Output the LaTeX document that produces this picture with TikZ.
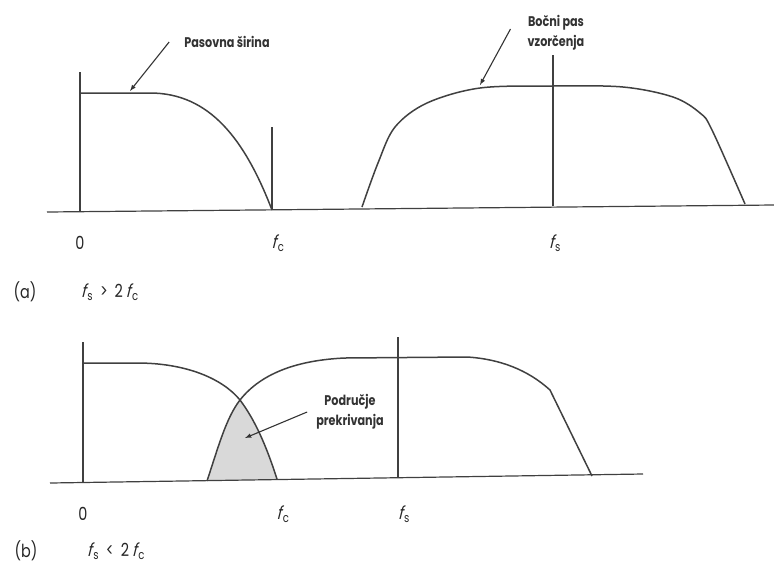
\documentclass[tikz,border=0pt]{standalone}
\usepackage{fontspec}
\setmainfont[FakeStretch=0.8]{Poppins}
\newfontfamily\slantfont[FakeSlant=0.25,FakeStretch=0.8]{Poppins}
\usetikzlibrary{positioning}
\newcommand{\fq}[1]{{\slantfont f}\kern1.5pt\textsubscript{#1}}

\begin{document}
\begin{tikzpicture}[x=1pt, y=-1pt,
  curve/.style={line width=1.5pt, black!75, line join=round},
  tick/.style={line width=1.2pt, black!75},
  note/.style={font=\fontsize{14}{20}\selectfont\bfseries, text=black!80, align=center, inner sep=1pt},
  axlabel/.style={font=\fontsize{18}{20}\selectfont, text=black!85, inner sep=0pt},
  pointer/.style={-latex, line width=1.1pt, black!80}]
\useasboundingbox (0,0) rectangle (774,566);
\draw[tick] (47,212) -- (774,205);
\draw[tick] (80,72) -- (80,212);
\draw[tick] (272,127) -- (272,210);
\draw[tick] (553,55) -- (553,206);
\draw[curve] (80,93) -- (150,93) .. controls (210,93) and (245,140) .. (272,210);
\draw[curve] plot[smooth, tension=0.55] coordinates {(362,207) (378,163) (395,127) (427,103) (480,88) (553,86) (623,87) (673,97) (700,113) (712,130) (745,204)};
\coordinate (bwtip) at (130,91);
\coordinate (sbtip) at (480,85);
\node[note] (bw) at (227,42) {Pasovna širina};
\node[note] (sb) at (556,33) {Bočni pas\\vzorčenja};
\draw[pointer] ([xshift=-14]bw.west) -- (bwtip);
\draw[pointer] ([xshift=-16, yshift=4]sb.west) -- (sbtip);
\node[axlabel] (za) at (80,243) {0};
\node[axlabel] (fca) at (278,243) {\fq{c}};
\node[axlabel] (fsa) at (555,243) {\fq{s}};
\node[axlabel] (la) at (25,292) {(a)};
\node[axlabel] (ca) at (110,292) {\fq{s} \,>\, 2\,\fq{c}};
\fill[gray!30] (207,481) .. controls (218,448) and (226,418) .. (240,400) .. controls (255,420) and (266,445) .. (277,479) -- cycle;
\draw[tick] (50,483) -- (643,474);
\draw[tick] (83,342) -- (83,483);
\draw[tick] (398,337) -- (398,477);
\draw[curve] (83,363) -- (137,363) .. controls (185,363) and (222,378) .. (240,400) .. controls (255,420) and (266,445) .. (277,479);
\draw[curve] (207,481) .. controls (218,448) and (226,418) .. (240,400) .. controls (262,372) and (300,360) .. (345,358) -- (467,357) .. controls (500,359) and (528,370) .. (550,390) -- (592,476);
\coordinate (pktip) at (245,438);
\node[note] (pk) at (350,412) {Područje\\prekrivanja};
\draw[pointer] ([xshift=-8]pk.west) -- (pktip);
\node[axlabel] (zb) at (83,514) {0};
\node[axlabel] (fcb) at (283,514) {\fq{c}};
\node[axlabel] (fsb) at (404,514) {\fq{s}};
\node[axlabel] (lb) at (26,551) {(b)};
\node[axlabel] (cb) at (116,551) {\fq{s} \,<\, 2\,\fq{c}};
\end{tikzpicture}
\end{document}
